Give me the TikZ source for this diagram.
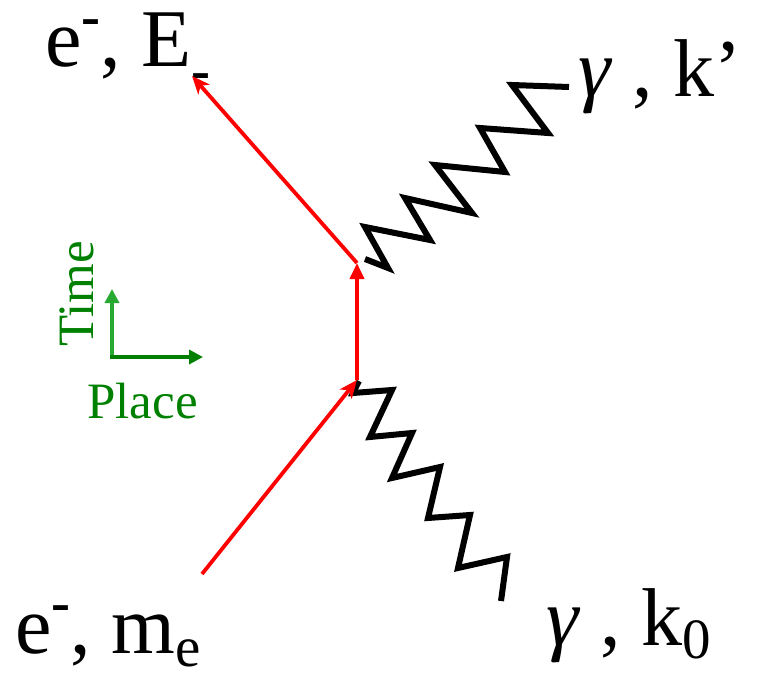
\documentclass[tikz,border=0pt]{standalone}
\usepackage{fontspec}
\setmainfont{Liberation Serif}
\usetikzlibrary{arrows.meta, positioning}
\definecolor{ElecRed}{RGB}{255,0,0}
\definecolor{AxisGreen}{RGB}{0,128,0}
\definecolor{TimeGreen}{RGB}{40,170,50}
% raised / lowered small text, as the slide sets it
\newcommand\upsc[1]{\raisebox{0.38em}{\fontsize{57}{60}\selectfont #1}}
\newcommand\dnsc[2][0.16em]{\raisebox{-#1}{\fontsize{57}{60}\selectfont #2}}

\begin{document}
\begin{tikzpicture}[
    x=1pt, y=-1pt,
    elec/.style={draw=ElecRed, line width=3.8pt},
    tri/.style={-{Triangle[length=16pt,width=14pt]}},
    stl/.style={-{Stealth[length=18pt,width=15pt,inset=5pt]}},
    photon/.style={draw=black, line width=6pt, line join=miter},
    axis/.style={line width=4pt, -{Triangle[length=14pt,width=14pt]}, color=#1},
    lbl/.style={anchor=base west, inner sep=0pt,
        font=\fontsize{82}{90}\selectfont},
    axlbl/.style={inner sep=0pt, text=AxisGreen,
        font=\fontsize{51}{56}\selectfont}
]
\useasboundingbox (0,0) rectangle (757,674);

% VERTICES
\coordinate (vin)  at (357,380);
\coordinate (vout) at (357,263);
\coordinate (estart) at (202,574);
\coordinate (eend)   at (192,76);

% LABELS
\node[lbl] (eoutlbl) at (45,67) {e\upsc{\bfseries -}, E\dnsc[0.28em]{\bfseries -}};
\node[lbl] (einlbl) at (15,653) {e\upsc{\bfseries -}, m\dnsc{e}};
\node[lbl] (goutlbl) at (578,97) {\textit{γ} , k’};
\node[lbl] (ginlbl) at (546,645) {\textit{γ} , k\dnsc{0}};

% PHOTONS
\coordinate (gup0) at (365,259);
\coordinate (gup1) at (569,87);
\draw[photon] (gup0) -- (388,268) -- (365,227) -- (430,240) -- (405,198)
    -- (472,213) -- (435,165) -- (505,172) -- (480,128) -- (548,133)
    -- (512,85) -- (gup1);

\coordinate (glo0) at (359,381);
\coordinate (glo1) at (501,601);
\draw[photon] (glo0) -- (353,393) -- (392,390) -- (370,437) -- (412,433)
    -- (392,478) -- (440,467) -- (428,518) -- (470,515) -- (458,568)
    -- (507,557) -- (glo1);

% ELECTRONS
\draw[elec, stl] (estart) -- (vin);
\draw[elec, tri] (vin) -- (vout);
\draw[elec, stl] (vout) -- (eend);

% TIME / PLACE AXES
\coordinate (ax0) at (112,357);
\coordinate (axt) at (112,289);
\coordinate (axp) at (203,357);
\draw[axis=TimeGreen] (ax0) -- (axt);
\draw[axis=AxisGreen] ([xshift=-2pt]ax0) -- (axp);

\node[axlbl, rotate=90, anchor=base] (timelbl) at (93,294) {Time};
\node[axlbl, anchor=base west] (placelbl) at (87,418) {Place};

\end{tikzpicture}
\end{document}
